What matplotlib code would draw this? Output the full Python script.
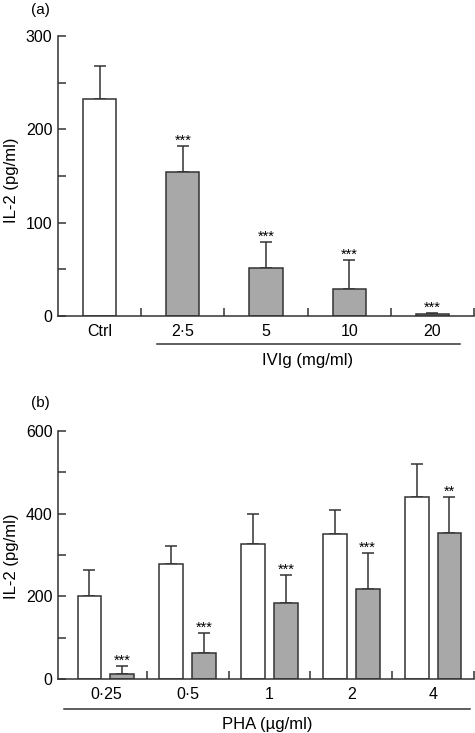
import matplotlib
matplotlib.use("Agg")
import matplotlib.pyplot as plt
import numpy as np

plt.rcParams['font.family'] = ['Liberation Sans', 'DejaVu Sans']
plt.rcParams['font.size'] = 11.5

# Панель (a): IVIg
a_labels = ['Ctrl', '2·5', '5', '10', '20']
a_vals = [233, 154, 51, 29, 2]
a_err = [35, 28, 28, 31, 1]
a_stars = ['', '***', '***', '***', '***']

# Панель (b): PHA
b_labels = ['0·25', '0·5', '1', '2', '4']
b_ctrl = [200, 278, 326, 350, 441]
b_ctrl_err = [63, 43, 73, 59, 79]
b_ivig = [13, 62, 185, 217, 354]
b_ivig_err = [18, 50, 67, 88, 86]
b_stars = ['***', '***', '***', '***', '**']

W, H = 475, 733
fig = plt.figure(figsize=(W / 100, H / 100), dpi=100)

edge = '#333333'
grey = '#a8a8a8'
err_kw = dict(ecolor=edge, elinewidth=1.1, capsize=4, capthick=1.1)
star_size = 10.5
lab_size = 12


def style_axis(ax):
    for s in ['top', 'right']:
        ax.spines[s].set_visible(False)
    for s in ['left', 'bottom']:
        ax.spines[s].set_color(edge)
        ax.spines[s].set_linewidth(1.1)
    ax.tick_params(axis='y', which='both', direction='in', length=5.5, width=1.1, color=edge, pad=4)
    ax.tick_params(axis='x', which='major', length=0, pad=6)
    ax.tick_params(axis='x', which='minor', direction='in', length=5.5, width=1.1, color=edge)


# (a)
ax1 = fig.add_axes([58 / W, 1 - 316 / H, 416 / W, 280 / H])
x = np.arange(len(a_labels))
colors = ['white'] + [grey] * 4
ax1.bar(x, a_vals, width=0.4, color=colors, edgecolor=edge, linewidth=1.1, zorder=2)
ax1.errorbar(x, a_vals, yerr=[np.zeros(5), a_err], fmt='none', zorder=1, **err_kw)
for xi, v, e, s in zip(x, a_vals, a_err, a_stars):
    if s:
        ax1.annotate(s, (xi, v + e), xytext=(0, 5), textcoords='offset pixels',
                     ha='center', va='center', fontsize=star_size)
ax1.set_xlim(-0.5, 4.5)
ax1.set_ylim(0, 300)
ax1.set_yticks([0, 100, 200, 300])
ax1.set_yticks([50, 150, 250], minor=True)
ax1.set_xticks(x)
ax1.set_xticklabels(a_labels)
ax1.set_xticks(np.arange(0.5, 4.6, 1), minor=True)
style_axis(ax1)
ax1.plot([0.69, 4.33], [-0.1, -0.1], color=edge, lw=1.1, clip_on=False,
         transform=ax1.get_xaxis_transform())
fig.text(308 / W, 1 - 361 / H, 'IVIg (mg/ml)', ha='center', va='center', fontsize=lab_size)
fig.text(12 / W, 1 - 180 / H, 'IL-2 (pg/ml)', rotation=90, ha='center', va='center', fontsize=lab_size)
fig.text(40 / W, 1 - 10 / H, '(a)', ha='center', va='center', fontsize=11)

# (b)
ax2 = fig.add_axes([58 / W, 1 - 679 / H, 416 / W, 248 / H])
x = np.arange(len(b_labels))
ax2.bar(x - 0.2, b_ctrl, width=0.29, color='white', edgecolor=edge, linewidth=1.1, zorder=2)
ax2.bar(x + 0.2, b_ivig, width=0.29, color=grey, edgecolor=edge, linewidth=1.1, zorder=2)
ax2.errorbar(x - 0.2, b_ctrl, yerr=[np.zeros(5), b_ctrl_err], fmt='none', zorder=1, **err_kw)
ax2.errorbar(x + 0.2, b_ivig, yerr=[np.zeros(5), b_ivig_err], fmt='none', zorder=1, **err_kw)
for xi, v, e, s in zip(x + 0.2, b_ivig, b_ivig_err, b_stars):
    ax2.annotate(s, (xi, v + e), xytext=(0, 5), textcoords='offset pixels',
                 ha='center', va='center', fontsize=star_size)
ax2.set_xlim(-0.585, 4.5)
ax2.set_ylim(0, 600)
ax2.set_yticks([0, 200, 400, 600])
ax2.set_yticks([100, 300, 500], minor=True)
ax2.set_xticks(x)
ax2.set_xticklabels(b_labels)
ax2.set_xticks(np.arange(0.5, 4.6, 1), minor=True)
style_axis(ax2)
ax2.plot([-0.512, 4.45], [-0.121, -0.121], color=edge, lw=1.1, clip_on=False,
         transform=ax2.get_xaxis_transform())
fig.text(267 / W, 1 - 724 / H, 'PHA (µg/ml)', ha='center', va='center', fontsize=lab_size)
fig.text(12 / W, 1 - 556 / H, 'IL-2 (pg/ml)', rotation=90, ha='center', va='center', fontsize=lab_size)
fig.text(40 / W, 1 - 403 / H, '(b)', ha='center', va='center', fontsize=11)

fig.savefig('out.png', dpi=100)
